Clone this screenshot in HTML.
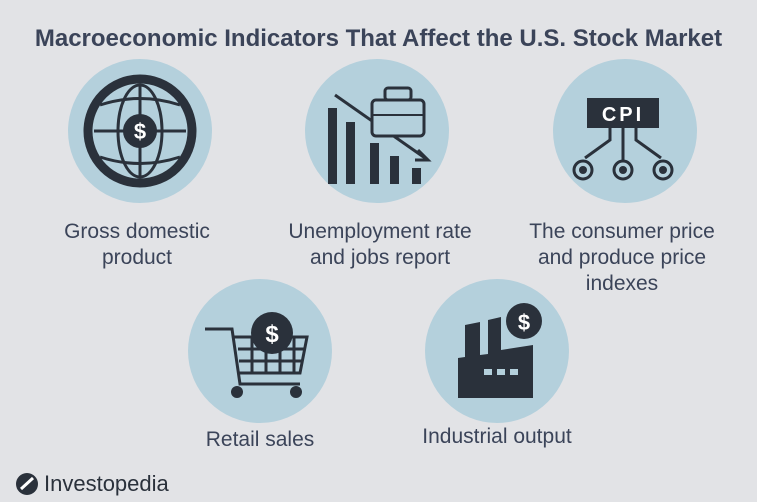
<!DOCTYPE html>
<html><head><style>
body{margin:0;width:757px;height:502px;background:#e2e3e6;overflow:hidden;font-family:"Liberation Sans",sans-serif;}
.t{position:absolute;color:#3b4459;text-align:center;font-size:21px;line-height:26px;width:260px}
</style></head><body>
<svg width="757" height="502" style="position:absolute;left:0;top:0">
<g fill="#b4d0dc">
<circle cx="140" cy="131" r="72"/><circle cx="377" cy="131" r="72"/><circle cx="625" cy="131" r="72"/>
<circle cx="260" cy="351" r="72"/><circle cx="497" cy="351" r="72"/></g>
<g stroke="#2a313b" fill="none">
<circle cx="140" cy="131" r="52" stroke-width="9"/>
<ellipse cx="140" cy="131" rx="22" ry="46" stroke-width="3"/>
<line x1="140" y1="85" x2="140" y2="177" stroke-width="3"/>
<line x1="94" y1="131" x2="186" y2="131" stroke-width="3"/>
<path d="M100 105 Q140 92 180 105 M100 157 Q140 170 180 157" stroke-width="3"/>
</g>
<circle cx="140" cy="131" r="17" fill="#2a313b"/>
<text x="140" y="139" font-size="22" fill="#fff" text-anchor="middle" font-weight="bold">$</text>
<g fill="#2a313b"><rect x="328" y="108" width="9" height="76"/><rect x="346" y="122" width="9" height="62"/><rect x="370" y="143" width="9" height="41"/><rect x="390" y="156" width="9" height="28"/><rect x="412" y="168" width="9" height="16"/></g>
<line x1="335" y1="95" x2="425" y2="158" stroke="#2a313b" stroke-width="3"/>
<path d="M418 150 L428 160 L415 160" stroke="#2a313b" stroke-width="3" fill="none"/>
<rect x="372" y="100" width="52" height="36" rx="4" fill="#b4d0dc" stroke="#2a313b" stroke-width="3"/>
<rect x="385" y="88" width="26" height="12" rx="3" fill="none" stroke="#2a313b" stroke-width="3"/>
<line x1="372" y1="115" x2="424" y2="115" stroke="#2a313b" stroke-width="2"/>
<rect x="587" y="98" width="72" height="30" fill="#2a313b"/>
<text x="623" y="121" font-size="20" fill="#fff" text-anchor="middle" font-weight="bold" letter-spacing="3">CPI</text>
<g stroke="#2a313b" stroke-width="3" fill="none">
<path d="M623 128 V162 M610 128 V140 L585 158 M636 128 V140 L661 158"/>
<circle cx="583" cy="170" r="9"/><circle cx="623" cy="170" r="9"/><circle cx="663" cy="170" r="9"/></g>
<g fill="#2a313b"><circle cx="583" cy="170" r="4"/><circle cx="623" cy="170" r="4"/><circle cx="663" cy="170" r="4"/></g>
<g stroke="#2a313b" stroke-width="3" fill="none">
<path d="M205 329 H232 L240 384 H300"/><path d="M234 337 H307 L300 373 H238"/>
<path d="M238 349 H305 M239 361 H302 M252 337 V373 M266 337 V373 M280 337 V373 M294 337 V373"/>
</g>
<circle cx="237" cy="392" r="6" fill="#2a313b"/><circle cx="296" cy="392" r="6" fill="#2a313b"/>
<circle cx="272" cy="333" r="21" fill="#2a313b"/>
<text x="272" y="342" font-size="24" fill="#fff" text-anchor="middle" font-weight="bold">$</text>
<path d="M458 398 V358 L465 357 V325 L480 322 V355 L488 354 V320 L501 317 V350 L533 345 V398 Z" fill="#2a313b"/>
<g fill="#b4d0dc"><rect x="484" y="369" width="8" height="6"/><rect x="497" y="369" width="8" height="6"/><rect x="510" y="369" width="8" height="6"/></g>
<circle cx="524" cy="321" r="18" fill="#2a313b"/>
<text x="524" y="330" font-size="22" fill="#fff" text-anchor="middle" font-weight="bold">$</text>
<circle cx="27" cy="484" r="11" fill="#2a313b"/>
<path d="M21 489 L33 478" stroke="#fff" stroke-width="3"/>
</svg>
<div style="position:absolute;left:0;width:757px;top:25px;text-align:center;font-size:24px;font-weight:bold;color:#3b4459">Macroeconomic Indicators That Affect the U.S. Stock Market</div>
<div class="t" style="left:7px;top:219px">Gross domestic<br>product</div>
<div class="t" style="left:250px;top:219px">Unemployment rate<br>and jobs report</div>
<div class="t" style="left:492px;top:219px">The consumer price<br>and produce price<br>indexes</div>
<div class="t" style="left:130px;top:427px">Retail sales</div>
<div class="t" style="left:367px;top:424px">Industrial output</div>
<div style="position:absolute;left:44px;top:471px;font-size:22px;color:#2a313b">Investopedia</div>
</body></html>
